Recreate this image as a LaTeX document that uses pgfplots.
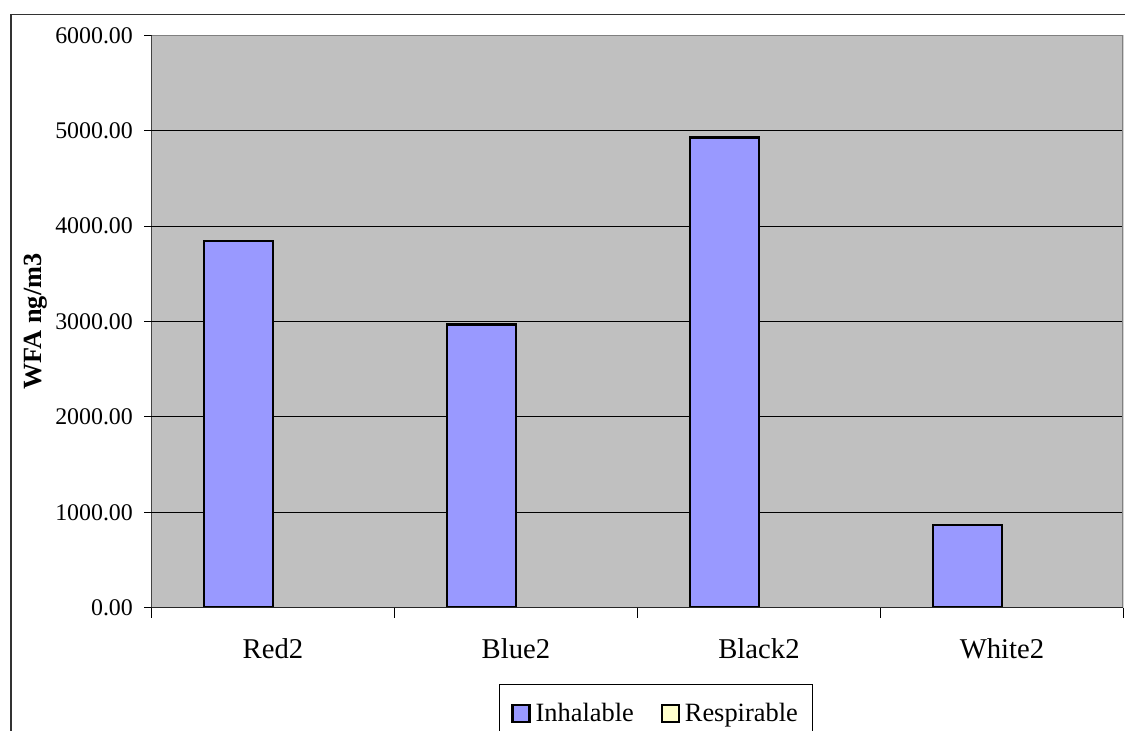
\documentclass[border=0pt]{standalone}
\usepackage{fontspec}
\setmainfont{Liberation Serif}
\usepackage{pgfplots}
\pgfplotsset{compat=1.18}

\definecolor{plotbg}{HTML}{C0C0C0}
\definecolor{inhal}{HTML}{9999FF}
\definecolor{resp}{HTML}{FFFFCC}
\definecolor{frameline}{HTML}{808080}

\begin{document}
\begin{tikzpicture}
% page: 843.75pt x 548.25pt, origin at the top left corner
\useasboundingbox (0,-548.25pt) rectangle (843.75pt,0);
\clip (0,-548.25pt) rectangle (843.75pt,0);
% outer chart frame (continues past the right and bottom edges)
\draw[line width=1.1pt, black!80] (8.25pt,-620pt) rectangle (900pt,-10.7pt);
\begin{axis}[
  at={(113.6pt,-26.6pt)}, anchor=north west,
  scale only axis, width=729pt, height=429.2pt,
  ybar, bar width=0.284,
  xmin=-0.5, xmax=3.5,
  ymin=0, ymax=6000,
  axis background/.style={fill=plotbg},
  axis line style={draw=none},
  xtick pos=bottom, ytick pos=left,
  ytick={0,1000,...,6000},
  ymajorgrids, grid style={black, line width=0.75pt},
  y tick style={black, line width=0.75pt},
  tick align=outside,
  major tick length=5.25pt,
  minor tick length=7.5pt,
  /pgf/number format/.cd, fixed, fixed zerofill, precision=2, 1000 sep={}, assume math mode=true,
  /pgfplots/.cd,
  yticklabel style={font=\fontsize{17.9pt}{20pt}\selectfont, anchor=east, inner sep=0pt, xshift=-8.5pt},
  xtick={0,1,2,3},
  xticklabels={Red2,Blue2,Black2,White2},
  major x tick style={draw=none},
  minor xtick={-0.5,0.5,1.5,2.5,3.5},
  minor x tick style={black, line width=0.9pt},
  xticklabel style={font=\fontsize{21.5pt}{24pt}\selectfont, anchor=north, inner sep=0pt, yshift=-18pt},
  ylabel={\textbf{WFA ng/m3}},
  ylabel style={font=\fontsize{19.7pt}{22pt}\selectfont, at={(axis description cs:-0.119,0.5)}, anchor=center},
  legend columns=2,
  legend style={at={(0.3574,-0.1334)}, anchor=north west, draw=black, line width=0.75pt, fill=white,
    font=\fontsize{19.8pt}{22pt}\selectfont, inner xsep=9pt, inner ysep=12pt,
    /tikz/every even column/.append style={column sep=18pt}},
  legend image code/.code={\draw[#1, line width=2pt] (0pt,-6.4pt) rectangle (12.75pt,6.4pt); \path (14.25pt,0pt);},
  legend cell align=left,
]
\addplot[fill=inhal, draw=black, line width=2pt, bar shift=-0.142] coordinates {(0,3844) (1,2971) (2,4927) (3,867)};
\addlegendentry{Inhalable}
\addplot[fill=resp, draw=none, line width=2pt, bar shift=0.142, forget plot] coordinates {(0,0) (1,0) (2,0) (3,0)};
\addlegendimage{fill=resp, draw=black, line width=2pt}
\addlegendentry{Respirable}
% plot area border and axis lines
\draw[frameline, line width=1.5pt] (rel axis cs:0,1) -- (rel axis cs:1,1) -- (rel axis cs:1,0);
\draw[black, line width=1.1pt] (rel axis cs:0,0) -- (rel axis cs:0,1);
\draw[black!85, line width=1.5pt] (rel axis cs:0,0) -- (rel axis cs:1,0);
\end{axis}
\end{tikzpicture}
\end{document}
